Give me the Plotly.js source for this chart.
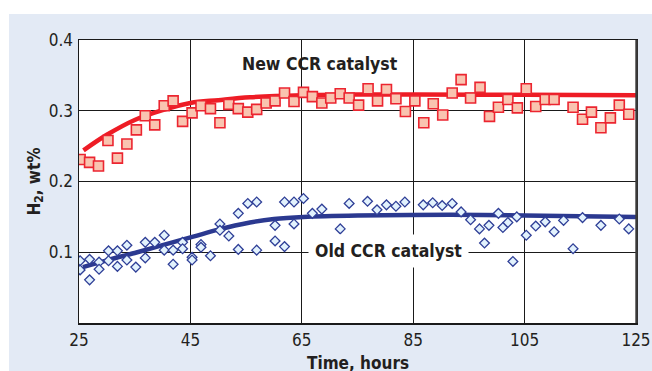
<!DOCTYPE html>
<html>
<head>
<meta charset="utf-8">
<script src="https://cdn.plot.ly/plotly-3.0.1.min.js"></script>
<style>html,body{margin:0;padding:0;background:#fff;}#chart{width:652px;height:371px;}</style>
</head>
<body>
<div id="chart"></div>
<script>
// New CCR catalyst (red squares)
const newX = [25.2, 26.9, 28.5, 30.2, 31.9, 33.6, 35.3, 36.9, 38.6, 40.3, 41.9, 43.6, 45.3, 46.9, 48.6, 50.3, 51.9, 53.6, 55.3, 56.9, 58.6, 60.2, 61.9, 63.6, 65.3, 66.9, 68.6, 70.2, 71.9, 73.5, 75.2, 76.9, 78.6, 80.2, 81.9, 83.6, 85.3, 86.9, 88.6, 90.3, 92.0, 93.6, 95.3, 97.0, 98.7, 100.3, 102.0, 103.7, 105.3, 107.0, 108.7, 110.3, 113.7, 115.4, 117.0, 118.7, 120.4, 122.0, 123.7];
const newY = [0.231, 0.227, 0.222, 0.258, 0.233, 0.253, 0.273, 0.293, 0.280, 0.307, 0.314, 0.285, 0.297, 0.307, 0.303, 0.283, 0.309, 0.303, 0.298, 0.302, 0.311, 0.314, 0.325, 0.313, 0.326, 0.320, 0.311, 0.318, 0.324, 0.318, 0.308, 0.331, 0.314, 0.330, 0.317, 0.299, 0.314, 0.283, 0.310, 0.294, 0.325, 0.344, 0.318, 0.333, 0.292, 0.305, 0.316, 0.304, 0.331, 0.306, 0.316, 0.316, 0.305, 0.288, 0.298, 0.276, 0.290, 0.308, 0.295];
// Fitted trend for new catalyst
const newFitX = [25.8, 30, 35, 40, 45, 50, 55.7, 65, 75, 85, 105, 125];
const newFitY = [0.244, 0.266, 0.287, 0.301, 0.311, 0.315, 0.319, 0.322, 0.323, 0.323, 0.3225, 0.322];

// Old CCR catalyst (blue diamonds)
const oldX = [25.2, 25.2, 26.9, 26.9, 28.6, 28.6, 30.3, 30.3, 31.9, 31.9, 33.6, 33.6, 35.2, 36.9, 36.9, 38.6, 40.3, 40.3, 41.9, 41.9, 43.6, 43.6, 45.3, 45.3, 46.9, 46.9, 48.6, 50.3, 50.3, 51.9, 53.6, 53.6, 55.3, 56.9, 56.9, 60.2, 60.2, 61.9, 61.9, 63.6, 63.6, 65.3, 66.9, 68.6, 71.9, 73.5, 76.8, 78.5, 80.2, 81.9, 83.5, 86.8, 88.5, 90.2, 92.0, 93.6, 95.3, 96.9, 97.8, 98.6, 100.3, 101.1, 102.0, 102.9, 103.6, 105.3, 107.0, 108.7, 110.3, 112.0, 113.7, 115.4, 118.7, 122.0, 123.7];
const oldY = [0.088, 0.075, 0.090, 0.061, 0.086, 0.076, 0.102, 0.088, 0.102, 0.080, 0.110, 0.089, 0.079, 0.114, 0.092, 0.114, 0.124, 0.103, 0.103, 0.083, 0.114, 0.105, 0.093, 0.089, 0.111, 0.107, 0.095, 0.140, 0.131, 0.123, 0.155, 0.104, 0.169, 0.171, 0.103, 0.138, 0.116, 0.171, 0.108, 0.171, 0.140, 0.176, 0.155, 0.161, 0.133, 0.169, 0.172, 0.160, 0.167, 0.165, 0.171, 0.167, 0.170, 0.166, 0.169, 0.157, 0.146, 0.133, 0.113, 0.138, 0.155, 0.135, 0.142, 0.087, 0.150, 0.124, 0.137, 0.143, 0.129, 0.145, 0.105, 0.149, 0.138, 0.147, 0.133];
const oldFitX = [25.7, 30.6, 35, 40, 45.5, 50, 55.7, 60, 65.3, 75, 91.6, 105, 125];
const oldFitY = [0.079, 0.090, 0.099, 0.110, 0.122, 0.132, 0.142, 0.147, 0.150, 0.152, 0.153, 0.152, 0.150];

const xTicks = [25, 45, 65, 85, 105, 125];
const yTicks = [0.1, 0.2, 0.3, 0.4];
const yTickText = ['0.1', '0.2', '0.3', '0.4'];
const xTitle = 'Time, hours';

const FONT = '"Liberation Sans Narrow", "Arial Narrow", "DejaVu Sans Condensed", sans-serif';
const RED = '#ee1c25', BLUE = '#2b3990';

const traces = [
  {x: newFitX, y: newFitY, mode: 'lines', line: {color: RED, width: 4.5, shape: 'spline', smoothing: 1}, hoverinfo: 'skip'},
  {x: oldFitX, y: oldFitY, mode: 'lines', line: {color: BLUE, width: 4.5, shape: 'spline', smoothing: 1}, hoverinfo: 'skip'},
  {x: newX, y: newY, mode: 'markers', marker: {symbol: 'square', size: 10, color: '#f9c4b0', line: {color: '#ec2530', width: 1.6}}},
  {x: oldX, y: oldY, mode: 'markers', marker: {symbol: 'diamond', size: 7.5, color: '#e2f2fd', line: {color: '#2f3f97', width: 1.3}}}
];

const layout = {
  width: 652, height: 371,
  margin: {l: 79, r: 16, t: 40, b: 48, pad: 0},
  paper_bgcolor: '#ffffff',
  plot_bgcolor: '#ffffff',
  showlegend: false,
  font: {family: FONT, color: '#231f20', size: 17},
  xaxis: {
    range: [25, 125], tickvals: xTicks, ticktext: xTicks.map(String),
    showgrid: true, gridcolor: '#1a1a1a', gridwidth: 1,
    zeroline: false, showline: true, linecolor: '#1a1a1a', linewidth: 1.5, mirror: true,
    ticks: '', ticklabelstandoff: 1, ticklabeloverflow: 'allow',
    tickfont: {family: FONT, size: 17, color: '#231f20'},
    title: {text: ''},
    automargin: false, fixedrange: true
  },
  yaxis: {
    range: [0, 0.4], tickvals: yTicks, ticktext: yTickText,
    showgrid: true, gridcolor: '#1a1a1a', gridwidth: 1,
    zeroline: false, showline: true, linecolor: '#1a1a1a', linewidth: 1.5, mirror: true,
    ticks: '', ticklabelstandoff: 1,
    tickfont: {family: FONT, size: 17, color: '#231f20'},
    title: {text: '<b>H<sub>2</sub>, wt%</b>', font: {family: FONT, size: 17, color: '#231f20'}, standoff: 4},
    automargin: false, fixedrange: true
  },
  shapes: [
    {type: 'rect', xref: 'paper', yref: 'paper', x0: -0.1257, x1: 1.03, y0: -0.2, y1: 1.0919, fillcolor: '#e3eaf5', line: {width: 0}, layer: 'below'},
    {type: 'rect', xref: 'paper', yref: 'paper', x0: 0, x1: 1, y0: 0, y1: 1, fillcolor: '#ffffff', line: {width: 0}, layer: 'below'},
    {type: 'line', xref: 'paper', yref: 'paper', x0: 1.001, x1: 1.001, y0: 0, y1: 1, line: {color: '#3a3a3a', width: 2.5}}
  ],
  annotations: [
    {x: 68.3, y: 0.366, xref: 'x', yref: 'y', text: '<b>New CCR catalyst</b>', showarrow: false,
     font: {family: FONT, size: 17.5, color: '#231f20'}},
    {x: 80.6, y: 0.1015, xref: 'x', yref: 'y', text: '<b>Old CCR catalyst</b>', showarrow: false,
     font: {family: FONT, size: 17.5, color: '#231f20'}, bgcolor: '#ffffff', borderpad: 6},
    {x: 0.5, y: -0.143, xref: 'paper', yref: 'paper', yanchor: 'middle', text: '<b>' + xTitle + '</b>', showarrow: false,
     font: {family: FONT, size: 17, color: '#231f20'}}
  ]
};

Plotly.newPlot('chart', traces, layout, {displayModeBar: false, staticPlot: true});
</script>
</body>
</html>
